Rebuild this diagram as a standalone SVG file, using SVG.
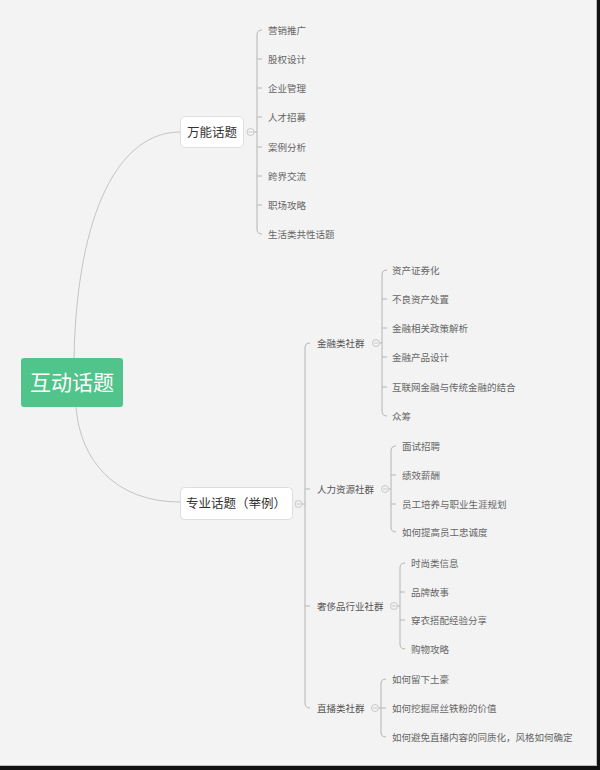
<svg xmlns="http://www.w3.org/2000/svg" width="600" height="770" viewBox="0 0 600 770">
<style>
.bg{fill:#f3f3f3}
.curve{fill:none;stroke:#c4c4c4;stroke-width:1}
.br{fill:none;stroke:#b4b4b4;stroke-width:1}
.tog{fill:#f3f3f3;stroke:#bdbdbd;stroke-width:0.8}
.togm{stroke:#bdbdbd;stroke-width:0.8}
.box{fill:#ffffff;stroke:#dedede;stroke-width:1}
.root{fill:#50c48a}
text{font-family:"Noto Sans CJK SC","Liberation Sans",sans-serif}
.rt{font-size:21px;fill:#ffffff;text-anchor:middle}
.t1{font-size:12.5px;fill:#333333;text-anchor:middle}
.t2{font-size:9.5px;fill:#555555}
.t3{font-size:9.5px;fill:#666666}
</style>
<rect class="bg" x="0" y="0" width="600" height="770"/>
<rect x="597" y="0" width="3" height="770" fill="#111"/>
<rect x="0" y="766" width="600" height="4" fill="#111"/>
<line x1="596.5" y1="0" x2="596.5" y2="765.5" stroke="#bbb"/>
<line x1="0" y1="765.5" x2="596.5" y2="765.5" stroke="#bbb"/>

<g id="connectors">
<path class="curve" d="M74,358 C77,210 120,132 180,132"/>
<path class="curve" d="M76,407 C80,460 115,502 180,502"/>
<!-- 万能话题 bracket -->
<path class="br" d="M254,132 H257 M262,30 Q257,30 257,35 V229 Q257,234 262,234 M257,59 H262 M257,88 H262 M257,117 H262 M257,147 H262 M257,176 H262 M257,205 H262"/>
<!-- 专业话题 bracket -->
<path class="br" d="M302,504 H305 M310,343 Q305,343 305,348 V703 Q305,708 310,708 M305,489 H310 M305,606 H310"/>
<!-- 金融 -->
<path class="br" d="M379.5,343 H382 M387,270 Q382,270 382,275 V411 Q382,416 387,416 M382,299 H387 M382,328 H387 M382,357 H387 M382,387 H387"/>
<!-- 人力 -->
<path class="br" d="M388.5,489 H391 M396,446 Q391,446 391,451 V527 Q391,532 396,532 M391,475 H396 M391,504 H396"/>
<!-- 奢侈 -->
<path class="br" d="M397.5,606 H400 M405,563 Q400,563 400,568 V644 Q400,649 405,649 M400,592 H405 M400,620 H405"/>
<!-- 直播 -->
<path class="br" d="M378.5,708 H386 M386,679 Q381,679 381,684 V732 Q381,737 386,737"/>
</g>

<g id="root">
<rect class="root" x="21" y="358" width="102" height="49" rx="3"/>
<text class="rt" x="72" y="390">互动话题</text>
</g>

<g id="n-wanneng">
<rect class="box" x="180.5" y="116.5" width="63" height="31" rx="4"/>
<text class="t1" x="212" y="137">万能话题</text>
<circle class="tog" cx="250.5" cy="132" r="3.5"/>
<line class="togm" x1="248.5" y1="132" x2="252.5" y2="132"/>
</g>
<g id="wanneng-children">
<text class="t3" x="268" y="33.5">营销推广</text>
<text class="t3" x="268" y="62.5">股权设计</text>
<text class="t3" x="268" y="91.5">企业管理</text>
<text class="t3" x="268" y="120.5">人才招募</text>
<text class="t3" x="268" y="150.5">案例分析</text>
<text class="t3" x="268" y="179.5">跨界交流</text>
<text class="t3" x="268" y="208.5">职场攻略</text>
<text class="t3" x="268" y="237.5">生活类共性话题</text>
</g>

<g id="n-zhuanye">
<rect class="box" x="180.5" y="487.5" width="112" height="32" rx="4"/>
<text class="t1" x="236" y="508">专业话题（举例）</text>
<circle class="tog" cx="298.5" cy="504" r="3.5"/>
<line class="togm" x1="296.5" y1="504" x2="300.5" y2="504"/>
</g>

<g id="n-jinrong">
<text class="t2" x="317" y="346.5">金融类社群</text>
<circle class="tog" cx="376" cy="343" r="3.5"/>
<line class="togm" x1="374" y1="343" x2="378" y2="343"/>
</g>
<g id="jinrong-children">
<text class="t3" x="392" y="273.5">资产证券化</text>
<text class="t3" x="392" y="302.5">不良资产处置</text>
<text class="t3" x="392" y="331.5">金融相关政策解析</text>
<text class="t3" x="392" y="360.5">金融产品设计</text>
<text class="t3" x="392" y="390.5">互联网金融与传统金融的结合</text>
<text class="t3" x="392" y="419.5">众筹</text>
</g>

<g id="n-renli">
<text class="t2" x="317" y="492.5">人力资源社群</text>
<circle class="tog" cx="385" cy="489" r="3.5"/>
<line class="togm" x1="383" y1="489" x2="387" y2="489"/>
</g>
<g id="renli-children">
<text class="t3" x="402" y="449.5">面试招聘</text>
<text class="t3" x="402" y="478.5">绩效薪酬</text>
<text class="t3" x="402" y="507.5">员工培养与职业生涯规划</text>
<text class="t3" x="402" y="535.5">如何提高员工忠诚度</text>
</g>

<g id="n-shechi">
<text class="t2" x="317" y="609.5">奢侈品行业社群</text>
<circle class="tog" cx="394" cy="606" r="3.5"/>
<line class="togm" x1="392" y1="606" x2="396" y2="606"/>
</g>
<g id="shechi-children">
<text class="t3" x="411" y="566.5">时尚类信息</text>
<text class="t3" x="411" y="595.5">品牌故事</text>
<text class="t3" x="411" y="623.5">穿衣搭配经验分享</text>
<text class="t3" x="411" y="652.5">购物攻略</text>
</g>

<g id="n-zhibo">
<text class="t2" x="317" y="711.5">直播类社群</text>
<circle class="tog" cx="375" cy="708" r="3.5"/>
<line class="togm" x1="373" y1="708" x2="377" y2="708"/>
</g>
<g id="zhibo-children">
<text class="t3" x="392" y="682.5">如何留下土豪</text>
<text class="t3" x="392" y="711.5">如何挖掘屌丝铁粉的价值</text>
<text class="t3" x="392" y="740.5">如何避免直播内容的同质化，风格如何确定</text>
</g>
</svg>
